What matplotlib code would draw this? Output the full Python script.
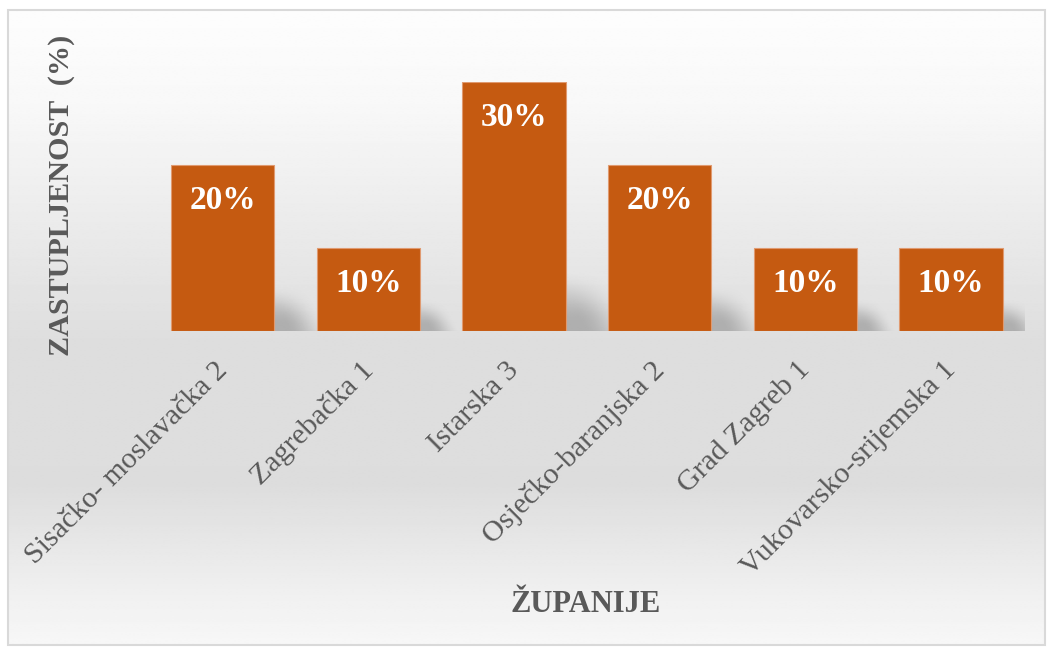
import numpy as np
import matplotlib
matplotlib.use("Agg")
import matplotlib.pyplot as plt
import matplotlib.transforms as mtransforms

# data
zupanije = ["Sisačko- moslavačka 2", "Zagrebačka 1", "Istarska 3",
            "Osječko-baranjska 2", "Grad Zagreb 1", "Vukovarsko-srijemska 1"]
zastupljenost = [20, 10, 30, 20, 10, 10]

bar_color = "#C55A11"
text_gray = "#595959"
serif = "Liberation Serif"

W, H = 1050, 653
fig = plt.figure(figsize=(W / 100, H / 100), dpi=100)
fig.patch.set_facecolor("white")

# chart area background: vertical gray gradient inside a thin border
bx0, bx1, by0, by1 = 8, 1045, 10, 645
bg = fig.add_axes([0, 0, 1, 1], zorder=0)
bg.set_xlim(0, W)
bg.set_ylim(H, 0)
bg.axis("off")
t = np.linspace(0, 1, 400)
stops_t = [0.0, 0.15, 0.52, 0.75, 0.92, 1.0]
stops_v = [253, 248, 222, 221, 240, 247]
col = np.interp(t, stops_t, stops_v) / 255.0
grad = np.repeat(col[:, None], 2, axis=1)
bg.imshow(grad, cmap="gray", vmin=0, vmax=1, aspect="auto",
          extent=[bx0, bx1, by1, by0], interpolation="bilinear")
bg.add_patch(plt.Rectangle((bx0, by0), bx1 - bx0, by1 - by0, fill=False,
                           edgecolor="#d9d9d9", lw=1.5))

# main axes placed so bars land where they are in the picture
base_y, top_y = 331, 82
left_px, right_px = 149.7, 1023.8
ax = fig.add_axes([left_px / W, (H - base_y) / H, (right_px - left_px) / W,
                   (base_y - top_y) / H], zorder=1)
ax.patch.set_alpha(0)
x = np.arange(len(zupanije))
bw = 0.71


def smooth(a):
    a = np.clip(a, 0, 1)
    return a * a * (3 - 2 * a)


# soft sheared shadow to the right of each bar, larger for taller bars
uu, vv = np.meshgrid(np.linspace(0, 1, 100), np.linspace(0, 1, 100))
alpha = 0.40 * smooth((1 - vv) / 0.85) * smooth((1 - uu - 0.4 * vv) / 0.75)
shadow = np.zeros((100, 100, 4))
shadow[..., :3] = 0.40
shadow[..., 3] = alpha
for xi, v in zip(x, zastupljenost):
    x0 = xi + bw / 2
    sh_w = 0.16 + 0.011 * v
    sh_h = 2.2 + 0.17 * v
    ax.imshow(shadow, extent=[x0, x0 + sh_w, 0, sh_h], origin="lower",
              aspect="auto", interpolation="bilinear", zorder=1)
ax.set_xlim(-0.5, len(zupanije) - 0.5)
ax.set_ylim(0, 30)
ax.set_aspect("auto")

ax.bar(x, zastupljenost, width=bw, color=bar_color, edgecolor="#e09a70",
       linewidth=0.8, zorder=2)

for xi, v in zip(x, zastupljenost):
    ax.annotate(f"{v}%", (xi, v), xytext=(0, -25.5), textcoords="offset points",
                ha="center", va="center", color="white", fontsize=24,
                fontweight="bold", family=serif, zorder=3)

for s in ax.spines.values():
    s.set_visible(False)
ax.set_yticks([])
ax.set_xticks(x)
ax.set_xticklabels(zupanije, rotation=45, ha="right", va="center",
                   rotation_mode="anchor", fontsize=21.5, family=serif,
                   color=text_gray)
ax.tick_params(axis="x", length=0, pad=0)
offset = mtransforms.ScaledTranslation(0.01, -0.35, fig.dpi_scale_trans)
for lab in ax.get_xticklabels():
    lab.set_transform(lab.get_transform() + offset)

fig.text(62 / W, 1 - 195 / H, "ZASTUPLJENOST  (%)", rotation=90,
         ha="center", va="center", fontsize=21.7, fontweight="bold",
         family=serif, color=text_gray)
fig.text(586 / W, 1 - 605 / H, "ŽUPANIJE", ha="center", va="center",
         fontsize=22, fontweight="bold", family=serif, color=text_gray)

fig.savefig("out.png", dpi=100)
